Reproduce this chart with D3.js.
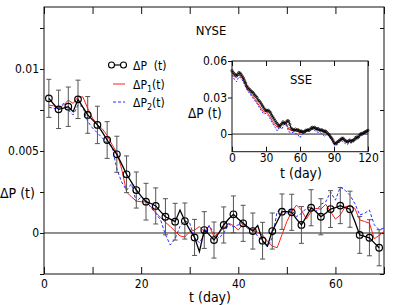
<!DOCTYPE html>
<html>
<head>
<meta charset="utf-8">
<script src="https://cdn.jsdelivr.net/npm/d3@7"></script>
<style>
  body { margin: 0; background: #fff; }
  svg text { font-family: "DejaVu Sans Condensed", "DejaVu Sans", sans-serif; font-stretch: condensed; fill: #000; }
</style>
</head>
<body>
<svg id="chart" width="394" height="305"></svg>
<script>
// NYSE, days 1..69 (values x 1e-3)
const nyseP = [8.21, 7.85, 7.54, 7.62, 7.70, 7.4, 8.15, 7.68, 7.2, 6.9, 6.59, 6.15, 5.67, 5.2, 4.8, 4.2, 3.58, 3.1, 2.62, 2.25,
  1.91, 1.8, 1.65, 1.3, 0.99, 0.85, 0.69, 1.4, 0.73, 0.2, -0.27, -1.14, 0.18, -0.1, -0.43, 0.0, 0.49, 0.85, 1.14, 0.85,
  0.59, 0.35, 0.12, 0.45, -0.47, -0.79, 0.12, 0.7, 1.30, 1.3, 1.26, 0.85, 0.49, 1.0, 1.54, 1.3, 0.99, 1.2, 1.46, 1.55,
  1.67, 1.55, 1.45, 0.7, -0.12, -0.2, -0.29, -0.6, -0.9]
// error bars on the odd days 1,3,..,69 (x 1e-3)
const nyseErr = [1.16, 1.17, 1.2, 1.17, 1.12, 1.14, 1.12, 1.1, 1.12, 1.1, 1.12, 1.1, 1.1, 1.12, 1.1, 1.1, 1.12, 1.1, 1.1, 1.12,
  1.1, 1.1, 1.12, 1.1, 1.08, 1.1, 1.12, 1.1, 1.1, 1.12, 1.1, 1.1, 1.12, 1.1, 1.1]
// days 1..70 (x 1e-3)
const nyseP1 = [7.8, 7.75, 7.6, 7.8, 8.1, 7.9, 8.3, 8.3, 7.6, 7.0, 6.6, 6.35, 5.95, 5.4, 4.9, 3.9, 2.5, 2.2, 1.95, 1.9,
  1.9, 1.6, 1.25, 0.95, 0.65, 0.4, 0.1, -0.18, -0.24, 0.08, 0.18, 0.39, 0.08, 0.45, -0.22, 0.02, 0.3, 0.6, 0.45, 0.18,
  0.55, 0.25, 0.18, 0.05, -0.12, -0.5, -0.8, -0.9, -0.1, 0.7, 1.3, 1.7, 1.4, 0.85, 1.3, 1.5, 1.45, 1.75, 1.3, 0.85,
  1.1, 1.6, 1.65, 1.5, 0.8, 0.7, 0.6, -0.35, -0.15, 0.1]
const nyseP2 = [7.67, 7.6, 7.6, 7.9, 7.5, 7.2, 7.8, 7.7, 6.8, 6.4, 6.1, 5.8, 5.5, 5.3, 3.9, 3.1, 2.6, 3.0, 1.9, 2.2,
  2.0, 1.55, 1.2, 0.8, -0.1, -0.73, -0.35, 0.4, 0.75, 0.6, -0.3, -0.6, -0.1, 0.45, 0.0, -0.3, -0.02, 0.55, 0.35, 0.5,
  0.65, 0.3, 0.2, -0.2, -0.5, -0.85, -0.3, 1.3, 1.5, 1.2, 1.4, 1.0, 1.2, 1.5, 1.6, 1.3, 1.75, 1.9, 2.5, 2.0,
  2.8, 2.6, 2.3, 1.8, 1.1, 1.2, 1.4, 0.5, 0.2, 0.3]

// SSE inset, days 0..120 (values x 1e-2)
const sseP = [5.2, 5.05, 4.95, 4.85, 4.8, 4.9, 5.05, 5.0, 4.9, 4.75, 4.6, 4.4, 4.2, 3.95, 3.8, 3.7, 3.62, 3.5, 3.45, 3.35,
  3.2, 3.1, 3.0, 2.8, 2.72, 2.6, 2.45, 2.3, 2.15, 2.0, 1.95, 1.9, 1.95, 1.85, 1.75, 1.55, 1.4, 1.25, 1.1, 0.95,
  0.85, 0.7, 0.6, 0.75, 0.85, 1.0, 0.9, 0.85, 1.0, 1.1, 1.05, 0.8, 0.5, 0.4, 0.35, 0.3, 0.4, 0.3, 0.35, 0.3,
  0.2, 0.25, 0.2, 0.15, 0.2, 0.3, 0.3, 0.35, 0.3, 0.4, 0.5, 0.55, 0.5, 0.55, 0.45, 0.4, 0.45, 0.35, 0.3, 0.35,
  0.3, 0.2, 0.25, 0.2, 0.1, 0.0, -0.1, -0.25, -0.35, -0.5, -0.7, -0.8, -0.75, -0.65, -0.6, -0.5, -0.45, -0.35, -0.35, -0.45,
  -0.55, -0.6, -0.65, -0.55, -0.5, -0.6, -0.55, -0.5, -0.45, -0.3, -0.25, -0.3, -0.15, -0.05, 0.05, 0.0, 0.1, 0.15, 0.2, 0.25,
  0.3]
// every second day 0,2,..,120 (x 1e-2)
const sseP1 = [4.9, 4.7, 4.65, 4.85, 4.75, 4.45, 4.0, 3.6, 3.4, 3.15, 2.9, 2.6, 2.35, 2.05, 1.8, 1.85, 1.65, 1.35, 1.0, 0.75,
  0.55, 0.8, 0.85, 0.95, 0.9, 0.4, 0.3, 0.3, 0.3, 0.2, 0.1, 0.15, 0.2, 0.3, 0.35, 0.45, 0.5, 0.4, 0.35, 0.3,
  0.2, 0.15, 0.1, -0.1, -0.4, -0.75, -0.8, -0.6, -0.45, -0.4, -0.6, -0.7, -0.6, -0.55, -0.5, -0.3, -0.2, -0.05, 0.1, 0.15,
  0.25]
const sseP2 = [4.85, 4.5, 4.3, 4.7, 4.6, 4.3, 3.85, 3.5, 3.3, 3.0, 2.75, 2.5, 2.2, 1.9, 1.65, 1.7, 1.5, 1.2, 0.85, 0.55,
  0.25, 0.6, 0.4, 0.8, 0.75, 0.2, 0.1, 0.15, 0.05, -0.05, -0.3, 0.0, 0.1, 0.2, 0.3, 0.35, 0.4, 0.2, 0.15, 0.1,
  -0.05, -0.2, 0.0, -0.2, -0.5, -0.85, -0.95, -0.75, -0.55, -0.6, -0.8, -0.85, -0.7, -0.75, -0.6, -0.45, -0.3, -0.15, 0.0, 0.05,
  0.15]

// tick labels
const mainXTicks = [0, 10, 20, 30, 40, 50, 60, 70]
const mainXLabels = [0, 20, 40, 60]
const mainYTicks = [-0.0025, 0, 0.0025, 0.005, 0.0075, 0.01, 0.0125]
const mainYLabels = [0, 0.005, 0.01]
const insetXTicks = [0, 30, 60, 90, 120]
const insetYTicks = [0, 0.03, 0.06]

const svg = d3.select('#chart')

const styleAxis = (g, size) => {
  g.select('.domain').remove()
  g.attr('font-size', size).attr('font-family', null)
  g.selectAll('line').attr('stroke', '#111')
}

// main panel
const x = d3.scaleLinear().domain([0, 70]).range([44, 384])
const y = d3.scaleLinear().domain([-0.0025, 0.01378]).range([274, 7])

const fmt = (labels) => (d) => labels.includes(d) ? (d === 0 ? '0' : d3.format('~g')(d)) : ''

svg.append('g')
  .attr('transform', 'translate(0,274)')
  .call(d3.axisBottom(x).tickValues(mainXTicks).tickFormat(fmt(mainXLabels)).tickSizeInner(-7).tickSizeOuter(0).tickPadding(5))
  .call(g => styleAxis(g, 12))
svg.append('g')
  .attr('transform', 'translate(0,7)')
  .call(d3.axisTop(x).tickValues(mainXTicks).tickFormat('').tickSizeInner(-7).tickSizeOuter(0))
  .call(g => styleAxis(g, 12))
svg.append('g')
  .attr('transform', 'translate(44,0)')
  .call(d3.axisLeft(y).tickValues(mainYTicks).tickFormat(fmt(mainYLabels)).tickSizeInner(4).tickSizeOuter(0).tickPadding(1))
  .call(g => styleAxis(g, 12))
svg.append('g')
  .attr('transform', 'translate(384,0)')
  .call(d3.axisRight(y).tickValues(mainYTicks).tickFormat('').tickSizeInner(-4).tickSizeOuter(0))
  .call(g => styleAxis(g, 12))

svg.append('rect')
  .attr('x', x(0)).attr('y', y.range()[1])
  .attr('width', x(70) - x(0)).attr('height', y.range()[0] - y.range()[1])
  .attr('fill', 'none').attr('stroke', '#111')

// zero line
svg.append('line')
  .attr('x1', x(0)).attr('x2', x(70)).attr('y1', y(0)).attr('y2', y(0))
  .attr('stroke', '#222')

const mainLine = d3.line().x((d, i) => x(i + 1)).y(d => y(d * 1e-3))

svg.append('path').datum(nyseP1)
  .attr('d', mainLine).attr('fill', 'none').attr('stroke', '#ff2020').attr('stroke-width', 1)
svg.append('path').datum(nyseP2)
  .attr('d', mainLine).attr('fill', 'none').attr('stroke', '#2a2aff').attr('stroke-width', 1)
  .attr('stroke-dasharray', '3,2')

// circles + error bars on odd days
const circ = nyseP.map((v, i) => ({ t: i + 1, v })).filter(d => d.t % 2 === 1)
circ.forEach((d, i) => { d.e = nyseErr[i] })

const bars = svg.append('g').attr('stroke', '#555').attr('stroke-width', 1)
circ.forEach(d => {
  const top = y((d.v + d.e) * 1e-3)
  const bot = y((d.v - d.e) * 1e-3)
  bars.append('line').attr('x1', x(d.t)).attr('x2', x(d.t)).attr('y1', top).attr('y2', bot)
  bars.append('line').attr('x1', x(d.t) - 2.5).attr('x2', x(d.t) + 2.5).attr('y1', top).attr('y2', top)
  bars.append('line').attr('x1', x(d.t) - 2.5).attr('x2', x(d.t) + 2.5).attr('y1', bot).attr('y2', bot)
})

svg.append('path').datum(nyseP)
  .attr('d', mainLine).attr('fill', 'none').attr('stroke', '#000').attr('stroke-width', 1.3)

svg.selectAll('.dot')
  .data(circ)
  .enter().append('circle')
  .attr('class', 'dot')
  .attr('cx', d => x(d.t))
  .attr('cy', d => y(d.v * 1e-3))
  .attr('r', 3.3)
  .attr('fill', 'none').attr('stroke', '#000').attr('stroke-width', 1.2)

// labels
svg.append('text').attr('x', 211).attr('y', 35).attr('text-anchor', 'middle').attr('font-size', 13).text('NYSE')
svg.append('text').attr('x', 0).attr('y', 198).attr('font-size', 14).text('ΔP (t)')
svg.append('text').attr('x', 210).attr('y', 302).attr('text-anchor', 'middle').attr('font-size', 14).text('t (day)')

// legend
const legend = svg.append('g').attr('font-size', 12)
legend.append('line').attr('x1', 111.5).attr('x2', 123.5).attr('y1', 65).attr('y2', 65).attr('stroke', '#000').attr('stroke-width', 1.2)
legend.selectAll('.lg-dot').data([111.5, 123.5]).enter().append('circle')
  .attr('cx', d => d).attr('cy', 65).attr('r', 3).attr('fill', '#fff').attr('stroke', '#000').attr('stroke-width', 1.1)
legend.append('text').attr('x', 133).attr('y', 69.5).attr('xml:space', 'preserve').text('ΔP  (t)')

legend.append('line').attr('x1', 113).attr('x2', 125).attr('y1', 84).attr('y2', 84).attr('stroke', '#ff2020')
const t1 = legend.append('text').attr('x', 133).attr('y', 89)
t1.append('tspan').text('ΔP')
t1.append('tspan').attr('font-size', 9).attr('dy', 3).text('1')
t1.append('tspan').attr('dy', -3).text('(t)')

legend.append('line').attr('x1', 113).attr('x2', 125).attr('y1', 102).attr('y2', 102).attr('stroke', '#2a2aff').attr('stroke-dasharray', '3,2')
const t2 = legend.append('text').attr('x', 133).attr('y', 107)
t2.append('tspan').text('ΔP')
t2.append('tspan').attr('font-size', 9).attr('dy', 3).text('2')
t2.append('tspan').attr('dy', -3).text('(t)')

// inset (SSE)
const xi = d3.scaleLinear().domain([0, 120]).range([232, 368])
const yi = d3.scaleLinear().domain([-0.0145, 0.06]).range([151.7, 61])

svg.append('rect')
  .attr('x', xi(0)).attr('y', yi(0.06))
  .attr('width', xi(120) - xi(0)).attr('height', yi(-0.0145) - yi(0.06))
  .attr('fill', '#fff').attr('stroke', '#111')

svg.append('g')
  .attr('transform', `translate(0,${yi(-0.0145)})`)
  .call(d3.axisBottom(xi).tickValues(insetXTicks).tickSizeInner(-5).tickSizeOuter(0).tickPadding(2))
  .call(g => styleAxis(g, 12))
svg.append('g')
  .attr('transform', `translate(0,${yi(0.06)})`)
  .call(d3.axisTop(xi).tickValues(insetXTicks).tickFormat('').tickSizeInner(-5).tickSizeOuter(0))
  .call(g => styleAxis(g, 12))
svg.append('g')
  .attr('transform', `translate(${xi(0)},0)`)
  .call(d3.axisLeft(yi).tickValues(insetYTicks).tickFormat(d => d === 0 ? '0' : d3.format('.2f')(d)).tickSizeInner(4).tickSizeOuter(0).tickPadding(1))
  .call(g => styleAxis(g, 12))

svg.append('line')
  .attr('x1', xi(0)).attr('x2', xi(120)).attr('y1', yi(0)).attr('y2', yi(0))
  .attr('stroke', '#222')

const insetLine1 = d3.line().x((d, i) => xi(i)).y(d => yi(d * 1e-2))
const insetLine2 = d3.line().x((d, i) => xi(i * 2)).y(d => yi(d * 1e-2))

svg.append('path').datum(sseP1).attr('d', insetLine2).attr('fill', 'none').attr('stroke', '#ff2020').attr('stroke-width', 1)
svg.append('path').datum(sseP2).attr('d', insetLine2).attr('fill', 'none').attr('stroke', '#2a2aff').attr('stroke-width', 1)
  .attr('stroke-dasharray', '2,1.5')
svg.append('path').datum(sseP).attr('d', insetLine1).attr('fill', 'none').attr('stroke', '#000').attr('stroke-width', 1)
svg.selectAll('.sdot')
  .data(sseP)
  .enter().append('circle')
  .attr('class', 'sdot')
  .attr('cx', (d, i) => xi(i))
  .attr('cy', d => yi(d * 1e-2))
  .attr('r', 1.2)
  .attr('fill', 'none').attr('stroke', '#000').attr('stroke-width', 0.7)

svg.append('text').attr('x', 301).attr('y', 84).attr('text-anchor', 'middle').attr('font-size', 13).text('SSE')
svg.append('text').attr('x', 188).attr('y', 118).attr('font-size', 13.5).text('ΔP (t)')
svg.append('text').attr('x', 301).attr('y', 178).attr('text-anchor', 'middle').attr('font-size', 14).text('t (day)')
</script>
</body>
</html>
